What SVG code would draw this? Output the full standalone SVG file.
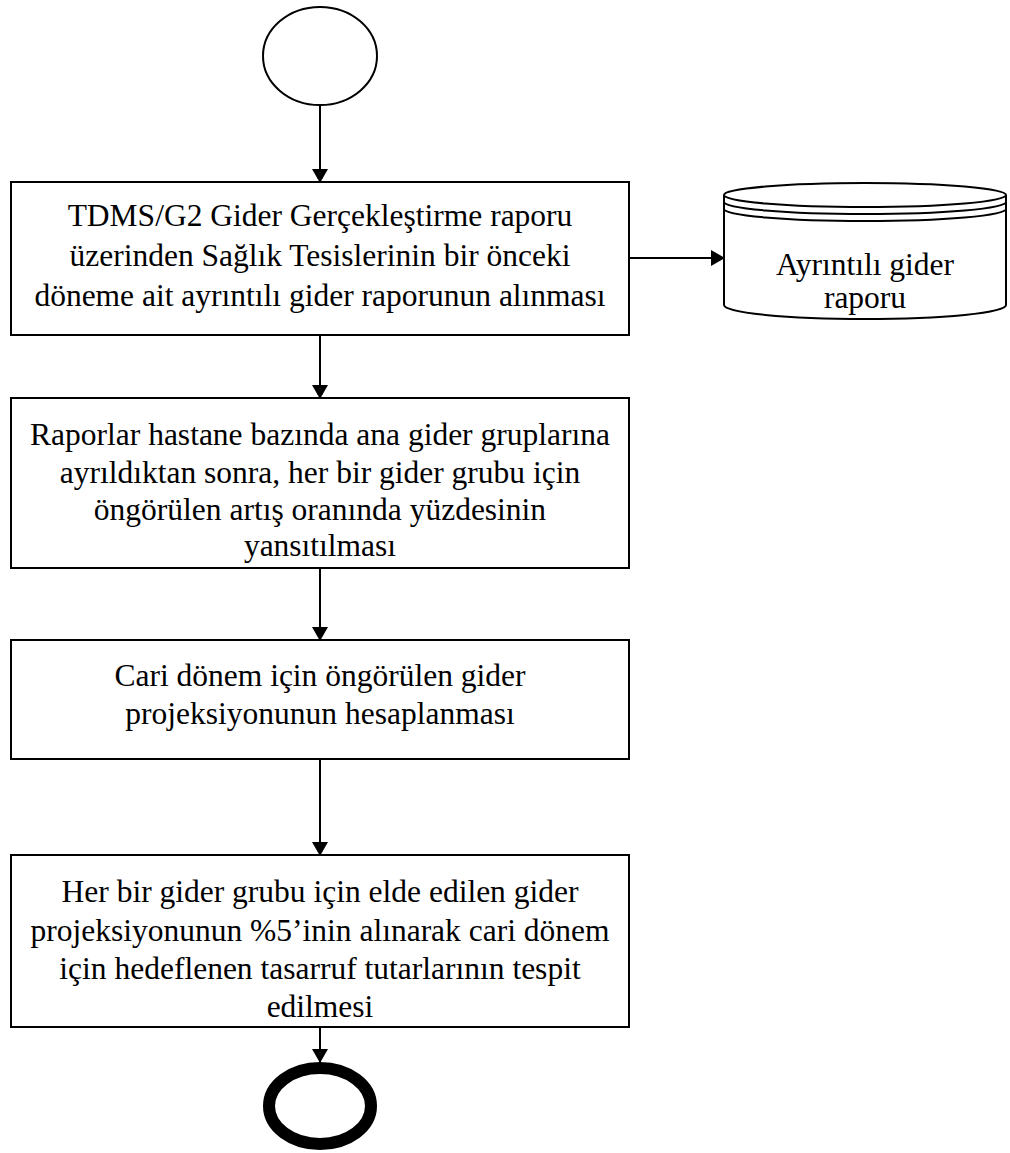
<svg xmlns="http://www.w3.org/2000/svg" width="1010" height="1153" viewBox="0 0 1010 1153">
<defs>
<marker id="ah" markerWidth="14" markerHeight="16" refX="13" refY="8" orient="auto" markerUnits="userSpaceOnUse">
<path d="M0,0 L14,8 L0,16 Z" fill="#000"/>
</marker>
<style>
.box{fill:#fff;stroke:#000;stroke-width:2}
.t{font-family:"Liberation Serif","Times New Roman",serif;font-size:31.5px;fill:#000;text-anchor:middle}
.c{stroke:#000;stroke-width:2;fill:none}
</style>
</defs>
<rect width="1010" height="1153" fill="#fff"/>
<g id="start"><ellipse cx="320" cy="56" rx="57" ry="49" fill="#fff" stroke="#000" stroke-width="2"/></g>
<g id="box1">
<rect class="box" x="11" y="182" width="618" height="153"/>
<text class="t" x="320" y="226">TDMS/G2 Gider Gerçekleştirme raporu</text>
<text class="t" x="320" y="266">üzerinden Sağlık Tesislerinin bir önceki</text>
<text class="t" x="320" y="306">döneme ait ayrıntılı gider raporunun alınması</text>
</g>
<g id="datastore">
<path d="M724,195 L724,305 A141,14 0 0 0 1006,305 L1006,195" fill="#fff" stroke="#000" stroke-width="2"/>
<ellipse cx="865" cy="195" rx="141" ry="12" fill="#fff" stroke="#000" stroke-width="2"/>
<path d="M724,202 A141,12 0 0 0 1006,202" class="c"/>
<path d="M724,209 A141,12 0 0 0 1006,209" class="c"/>
<text class="t" x="865" y="275">Ayrıntılı gider</text>
<text class="t" x="865" y="308">raporu</text>
</g>
<g id="box2">
<rect class="box" x="11" y="398" width="618" height="170"/>
<text class="t" x="320" y="445">Raporlar hastane bazında ana gider gruplarına</text>
<text class="t" x="320" y="483">ayrıldıktan sonra, her bir gider grubu için</text>
<text class="t" x="320" y="520">öngörülen artış oranında yüzdesinin</text>
<text class="t" x="320" y="556">yansıtılması</text>
</g>
<g id="box3">
<rect class="box" x="11" y="640" width="618" height="119"/>
<text class="t" x="320" y="686">Cari dönem için öngörülen gider</text>
<text class="t" x="320" y="724">projeksiyonunun hesaplanması</text>
</g>
<g id="box4">
<rect class="box" x="11" y="855" width="618" height="172"/>
<text class="t" x="320" y="902">Her bir gider grubu için elde edilen gider</text>
<text class="t" x="320" y="941">projeksiyonunun %5’inin alınarak cari dönem</text>
<text class="t" x="320" y="979">için hedeflenen tasarruf  tutarlarının tespit</text>
<text class="t" x="320" y="1017">edilmesi</text>
</g>
<g id="end"><ellipse cx="320" cy="1106" rx="51" ry="38" fill="#fff" stroke="#000" stroke-width="12"/></g>
<g id="connectors">
<line class="c" x1="320" y1="105" x2="320" y2="182" marker-end="url(#ah)"/>
<line class="c" x1="629" y1="258" x2="724" y2="258" marker-end="url(#ah)"/>
<line class="c" x1="320" y1="335" x2="320" y2="398" marker-end="url(#ah)"/>
<line class="c" x1="320" y1="568" x2="320" y2="640" marker-end="url(#ah)"/>
<line class="c" x1="320" y1="759" x2="320" y2="855" marker-end="url(#ah)"/>
<line class="c" x1="320" y1="1027" x2="320" y2="1062" marker-end="url(#ah)"/>
</g>
</svg>
